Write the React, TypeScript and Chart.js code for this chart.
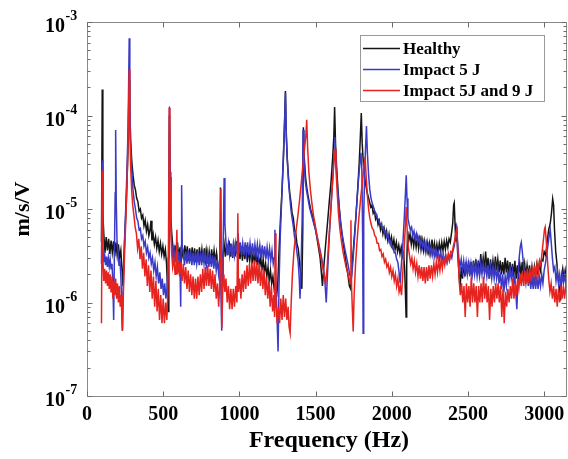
import React, { useEffect, useRef } from "react";
import { Chart, registerables } from "chart.js";

Chart.register(...registerables);

// [frequency (Hz), response (m/s/V)]
const healthy: [number, number][] = [
  [95, 4.5e-6], [100, 1.9e-4], [104, 9e-6], [110, 5.5e-6],
  [118, 3.4e-6], [126, 5e-6], [134, 3.6e-6], [142, 4.8e-6], [150, 3.3e-6], [158, 4.6e-6], [166, 3.4e-6], [174, 4.5e-6],
  [182, 3.1e-6], [190, 4.4e-6], [198, 3.2e-6], [206, 4.2e-6], [214, 3e-6], [222, 3.6e-6], [230, 2.2e-6], [236, 1.5e-6],
  [242, 3e-6], [250, 6e-6], [258, 1.2e-5], [266, 3e-5], [272, 7e-5], [276, 2.4e-4], [280, 1.2e-4], [286, 5.5e-5],
  [294, 3.2e-5], [302, 2.3e-5], [310, 1.8e-5], [318, 1.6e-5], [326, 1.3e-5], [334, 1.2e-5], [342, 9.5e-6], [350, 1e-5],
  [358, 8e-6], [366, 8.6e-6], [374, 6.6e-6], [382, 7.6e-6], [390, 5.8e-6], [398, 6.8e-6], [406, 5.2e-6], [414, 6e-6],
  [420, 7.5e-6], [426, 4.6e-6], [434, 5.4e-6], [442, 4.2e-6], [450, 5e-6], [458, 3.8e-6], [466, 4.6e-6], [474, 3.5e-6],
  [482, 4.3e-6], [490, 3.3e-6], [498, 4e-6], [506, 3.1e-6], [514, 3.7e-6], [522, 2.6e-6], [528, 1.5e-6], [533, 8e-7],
  [537, 6e-6], [541, 1e-4], [545, 2.2e-5], [550, 8e-6], [556, 5.5e-6], [562, 4.2e-6],
  [570, 3e-6], [578, 4.1e-6], [586, 3e-6], [594, 4.4e-6], [602, 2.9e-6], [610, 3.9e-6], [618, 2.7e-6], [626, 3.8e-6],
  [634, 2.9e-6], [642, 4.1e-6], [650, 3e-6], [658, 4e-6], [666, 2.8e-6], [674, 3.8e-6], [682, 2.8e-6], [690, 3.9e-6],
  [698, 2.8e-6], [706, 3.8e-6], [714, 2.7e-6], [722, 3.7e-6], [730, 2.7e-6], [738, 3.9e-6], [746, 2.8e-6], [754, 3.7e-6],
  [762, 2.7e-6], [770, 3.8e-6], [778, 2.8e-6], [786, 3.6e-6], [794, 2.6e-6], [802, 3.5e-6], [810, 2.6e-6], [818, 3.7e-6],
  [826, 2.7e-6], [834, 3.6e-6], [842, 2.7e-6], [850, 3.4e-6], [858, 2.5e-6], [866, 2.2e-6], [872, 3e-6], [876, 1.7e-5],
  [880, 3e-6], [886, 1.8e-6], [892, 3.2e-6],
  [900, 4.2e-6], [908, 3.1e-6], [916, 4.3e-6], [924, 3.2e-6], [932, 4.6e-6], [940, 3.1e-6], [948, 4.2e-6], [956, 3e-6],
  [964, 4.1e-6], [972, 3.1e-6], [980, 4.5e-6], [988, 3e-6], [996, 4.1e-6], [1004, 2.9e-6], [1012, 4e-6], [1020, 2.8e-6],
  [1028, 3.9e-6], [1036, 2.9e-6], [1044, 4.1e-6], [1052, 2.7e-6], [1060, 3.8e-6], [1068, 2.8e-6], [1076, 3.7e-6], [1084, 2.6e-6],
  [1092, 3.6e-6], [1100, 2.6e-6], [1108, 3.5e-6], [1116, 2.5e-6], [1124, 3.3e-6], [1132, 2.4e-6], [1140, 3.1e-6], [1148, 2.2e-6],
  [1156, 2.9e-6], [1164, 2.1e-6], [1172, 2.6e-6], [1180, 1.9e-6], [1188, 2.4e-6], [1196, 1.7e-6], [1204, 2.2e-6], [1212, 1.6e-6],
  [1220, 1.9e-6], [1228, 1.4e-6], [1236, 1.6e-6], [1244, 1.15e-6], [1252, 1.6e-6], [1260, 3.5e-6], [1270, 8e-6], [1280, 1.6e-5],
  [1290, 3.8e-5], [1297, 9e-5], [1302, 1.83e-4], [1307, 7e-5], [1314, 3.5e-5], [1322, 2.2e-5], [1330, 1.5e-5], [1338, 1.2e-5],
  [1346, 9e-6], [1354, 8e-6], [1362, 6e-6], [1370, 5.5e-6], [1378, 4.2e-6], [1386, 3.8e-6], [1394, 2.8e-6], [1402, 2e-6],
  [1410, 1.4e-6], [1416, 6e-6], [1420, 7.5e-5], [1426, 3.5e-5], [1434, 2.2e-5], [1442, 1.7e-5], [1450, 1.4e-5], [1460, 1.15e-5],
  [1470, 9.5e-6], [1480, 8.5e-6], [1490, 7e-6], [1500, 6e-6], [1510, 4.8e-6], [1520, 3.8e-6], [1530, 3e-6], [1538, 2.1e-6],
  [1545, 1.5e-6], [1555, 2.5e-6], [1565, 4e-6], [1578, 7e-6], [1590, 1.2e-5], [1602, 2e-5], [1612, 3.5e-5], [1620, 6e-5],
  [1625, 1.23e-4], [1631, 5e-5], [1638, 2.8e-5], [1646, 1.7e-5], [1654, 1.1e-5], [1662, 7.5e-6], [1672, 5.5e-6], [1682, 4.2e-6],
  [1692, 3.3e-6], [1702, 2.5e-6], [1712, 2e-6], [1722, 1.5e-6], [1730, 1.4e-6], [1740, 2.5e-6], [1752, 4.5e-6], [1764, 8e-6],
  [1776, 1.6e-5], [1786, 3e-5], [1794, 6e-5], [1800, 1.06e-4], [1806, 5e-5], [1814, 3e-5], [1822, 2.2e-5], [1830, 1.8e-5],
  [1838, 1.5e-5], [1846, 1.35e-5], [1854, 1.2e-5], [1862, 1.05e-5], [1870, 1.1e-5], [1878, 9e-6], [1886, 9.6e-6], [1894, 7.8e-6],
  [1902, 8.4e-6], [1910, 6.8e-6], [1918, 7.5e-6], [1926, 6e-6], [1934, 6.8e-6], [1942, 5.4e-6], [1950, 6.2e-6], [1958, 5e-6],
  [1966, 5.8e-6], [1974, 4.6e-6], [1982, 5.4e-6], [1990, 4.3e-6], [1998, 5e-6], [2006, 4e-6], [2014, 4.7e-6], [2022, 3.7e-6],
  [2030, 4.4e-6], [2038, 3.5e-6], [2046, 4.1e-6], [2054, 3.3e-6], [2062, 3.9e-6], [2070, 3.1e-6], [2078, 3.4e-6], [2085, 2.2e-6],
  [2090, 1.2e-6], [2094, 7e-7], [2098, 2.5e-6], [2104, 5.8e-6], [2112, 4.6e-6], [2120, 5.4e-6], [2128, 4.2e-6], [2136, 5.2e-6],
  [2144, 4e-6], [2152, 5e-6], [2160, 3.9e-6], [2168, 4.9e-6], [2176, 3.8e-6], [2184, 5.2e-6], [2192, 3.7e-6], [2200, 4.6e-6],
  [2208, 3.6e-6], [2216, 4.5e-6], [2224, 3.5e-6], [2232, 4.4e-6], [2240, 3.5e-6], [2248, 4.3e-6], [2256, 3.4e-6], [2264, 4.7e-6],
  [2272, 3.5e-6], [2280, 4.3e-6], [2288, 3.4e-6], [2296, 4.2e-6], [2304, 3.4e-6], [2312, 4.3e-6], [2320, 3.5e-6], [2328, 4.4e-6],
  [2336, 3.6e-6], [2344, 4.5e-6], [2352, 3.7e-6], [2360, 4.6e-6], [2368, 3.9e-6], [2376, 4.8e-6], [2384, 4.4e-6], [2392, 5.5e-6],
  [2400, 7e-6], [2406, 1.1e-5], [2410, 1.16e-5], [2415, 7e-6], [2420, 4.5e-6], [2426, 6.5e-6], [2432, 3.5e-6], [2440, 2.2e-6],
  [2448, 1.4e-6], [2456, 2.4e-6], [2464, 1.8e-6],
  [2472, 2.6e-6], [2480, 1.9e-6], [2488, 2.7e-6], [2496, 2e-6], [2504, 2.8e-6], [2512, 2e-6], [2520, 2.7e-6], [2528, 1.9e-6],
  [2536, 2.8e-6], [2544, 2.1e-6], [2552, 2.9e-6], [2560, 2.1e-6], [2568, 2.8e-6], [2576, 2e-6], [2584, 3.3e-6], [2592, 2.2e-6],
  [2600, 3e-6], [2608, 2.3e-6], [2616, 3.5e-6], [2624, 2.3e-6], [2632, 3e-6], [2640, 1.8e-6], [2648, 2.9e-6], [2656, 2.1e-6],
  [2664, 2.8e-6], [2672, 2.1e-6], [2680, 3.1e-6], [2688, 2.2e-6], [2696, 2.9e-6], [2704, 2.1e-6], [2712, 2.8e-6], [2720, 2e-6],
  [2728, 2.7e-6], [2736, 2e-6], [2744, 3e-6], [2752, 2.1e-6], [2760, 2.8e-6], [2768, 2e-6], [2776, 2.7e-6], [2784, 1.9e-6],
  [2792, 2.6e-6], [2800, 1.9e-6], [2808, 2.8e-6], [2816, 1.8e-6], [2824, 2.5e-6], [2832, 1.9e-6], [2840, 2.6e-6], [2848, 2e-6],
  [2856, 2.7e-6], [2864, 2e-6], [2872, 2.6e-6], [2880, 1.9e-6], [2888, 2.5e-6], [2896, 1.9e-6], [2904, 2.5e-6], [2912, 1.8e-6],
  [2920, 2.4e-6], [2928, 1.8e-6], [2936, 2.4e-6], [2944, 1.9e-6], [2952, 2.5e-6], [2960, 2e-6], [2968, 2.6e-6], [2976, 2.2e-6],
  [2984, 2.9e-6], [2992, 2.8e-6], [3000, 3.5e-6], [3010, 3.2e-6], [3020, 4.5e-6], [3030, 6e-6], [3040, 7e-6], [3048, 9e-6],
  [3056, 1.28e-5], [3062, 1.1e-5], [3068, 6e-6], [3076, 3.5e-6], [3084, 2.6e-6], [3092, 1.8e-6], [3100, 1.4e-6], [3108, 1.05e-6],
  [3114, 1.9e-6], [3122, 2.3e-6], [3130, 1.8e-6], [3138, 2.2e-6], [3146, 1.7e-6], [3152, 2e-6],
];

const impact5: [number, number][] = [
  [95, 2.6e-6], [100, 3.3e-5], [104, 4e-6], [110, 2.7e-6],
  [116, 3.2e-6], [122, 2.5e-6], [128, 3.1e-6], [134, 2.4e-6], [140, 3e-6], [146, 2.4e-6], [152, 2.9e-6], [158, 2.3e-6],
  [164, 2.6e-6], [170, 1.6e-6], [175, 6.5e-7], [180, 3.5e-6], [185, 1.5e-5], [188, 7e-5], [192, 1.2e-5], [197, 4.5e-6],
  [204, 3.4e-6], [210, 2.5e-6], [216, 2.9e-6], [222, 1.9e-6], [227, 1.1e-6], [232, 5e-7], [238, 1.5e-6], [246, 4.5e-6],
  [254, 1e-5], [262, 2.5e-5], [270, 8e-5], [277, 6.7e-4], [281, 1.6e-4], [286, 5e-5], [294, 2.5e-5], [302, 1.6e-5],
  [310, 1.2e-5], [318, 1e-5], [326, 8e-6], [334, 7.4e-6], [342, 6e-6], [350, 6.2e-6], [358, 4.8e-6], [366, 5.2e-6],
  [374, 4e-6], [382, 4.5e-6], [390, 3.4e-6], [398, 3.9e-6], [406, 3e-6], [414, 3.4e-6], [422, 2.6e-6], [430, 3e-6],
  [438, 2.2e-6], [446, 2.7e-6], [454, 1.9e-6], [462, 2.4e-6], [470, 1.6e-6], [478, 2.1e-6], [486, 1.4e-6], [494, 1.8e-6],
  [502, 1.2e-6], [510, 1.6e-6], [518, 1.1e-6], [526, 1.5e-6], [533, 3e-6], [537, 8e-6], [541, 1.25e-4], [545, 2.5e-5],
  [550, 7e-6], [556, 4.2e-6], [562, 3.2e-6], [570, 3.8e-6], [578, 2.7e-6], [586, 3.6e-6], [594, 2.6e-6], [602, 3.5e-6],
  [610, 2.5e-6], [615, 9e-7], [618, 4e-6], [621, 1.8e-5], [625, 4e-6], [632, 3.4e-6], [640, 2.5e-6], [648, 3.5e-6],
  [656, 2.6e-6], [664, 3.6e-6], [672, 2.6e-6], [680, 3.5e-6], [688, 2.5e-6], [696, 3.4e-6], [704, 2.5e-6], [712, 3.5e-6],
  [720, 2.6e-6], [728, 3.5e-6], [736, 2.5e-6], [744, 3.4e-6], [752, 2.5e-6], [760, 3.5e-6], [768, 2.6e-6], [776, 3.4e-6],
  [784, 2.5e-6], [792, 3.3e-6], [800, 2.4e-6], [808, 3.3e-6], [816, 2.4e-6], [824, 3.2e-6], [832, 2.3e-6], [840, 3.1e-6],
  [848, 2.2e-6], [856, 2.8e-6], [864, 2e-6], [872, 2.6e-6], [878, 1.5e-6], [884, 5e-7], [890, 2e-6], [895, 6e-6],
  [900, 2.15e-5], [905, 7e-6], [912, 4.4e-6], [920, 3.2e-6], [928, 4.3e-6], [936, 3.2e-6], [944, 4.3e-6], [952, 3.1e-6],
  [960, 4.2e-6], [968, 3.2e-6], [976, 4.3e-6], [984, 3.3e-6], [992, 5.5e-6], [998, 3.3e-6], [1006, 4.4e-6], [1014, 3.2e-6],
  [1022, 4.3e-6], [1030, 3.2e-6], [1038, 4.4e-6], [1046, 3.3e-6], [1054, 4.4e-6], [1062, 3.2e-6], [1070, 4.3e-6], [1078, 3.2e-6],
  [1086, 4.3e-6], [1094, 3.1e-6], [1102, 4.2e-6], [1110, 3.2e-6], [1118, 4.2e-6], [1126, 3.1e-6], [1134, 4.1e-6], [1142, 3e-6],
  [1150, 4.1e-6], [1158, 3e-6], [1166, 4e-6], [1174, 2.9e-6], [1182, 3.9e-6], [1190, 2.9e-6], [1198, 3.8e-6], [1206, 2.8e-6],
  [1214, 3.6e-6], [1222, 2.6e-6], [1228, 3e-6], [1233, 6e-6], [1238, 2e-6], [1246, 8e-7], [1254, 3e-7], [1260, 1.5e-6],
  [1268, 5e-6], [1278, 1.3e-5], [1288, 3.5e-5], [1296, 8e-5], [1303, 1.75e-4], [1308, 6e-5], [1315, 3.2e-5], [1322, 2e-5],
  [1330, 1.4e-5], [1338, 1e-5], [1346, 8e-6], [1354, 6.5e-6], [1362, 5e-6], [1370, 4.4e-6], [1378, 3.4e-6], [1386, 2.7e-6],
  [1393, 1.8e-6], [1398, 1.1e-6], [1405, 2.5e-6], [1412, 8e-6], [1418, 7e-5], [1424, 3.5e-5], [1432, 2e-5], [1440, 1.6e-5],
  [1450, 1.3e-5], [1460, 1.05e-5], [1470, 9e-6], [1480, 7.8e-6], [1490, 6.8e-6], [1500, 6e-6], [1510, 5e-6], [1520, 4.3e-6],
  [1530, 3.6e-6], [1540, 3e-6], [1550, 2.4e-6], [1560, 1.8e-6], [1570, 1e-6], [1578, 2e-6], [1590, 5e-6], [1602, 1.1e-5],
  [1614, 2.3e-5], [1622, 4e-5], [1627, 5.9e-5], [1633, 3.5e-5], [1640, 2.2e-5], [1648, 1.4e-5], [1656, 1e-5], [1664, 7.5e-6],
  [1674, 5.5e-6], [1684, 4.4e-6], [1694, 3.6e-6], [1704, 3e-6], [1714, 2.5e-6], [1724, 2e-6], [1734, 1.75e-6], [1744, 2.6e-6],
  [1756, 5e-6], [1768, 1e-5], [1780, 1.9e-5], [1790, 3e-5], [1798, 4e-5], [1804, 2.5e-5], [1809, 5e-6], [1812, 4.7e-7],
  [1816, 8e-6], [1822, 2.5e-5], [1828, 4.5e-5], [1834, 7.7e-5], [1840, 4e-5], [1848, 2.3e-5], [1856, 1.6e-5], [1864, 1.3e-5],
  [1872, 1.15e-5], [1880, 1.05e-5], [1888, 9.5e-6], [1896, 9e-6], [1904, 8e-6], [1912, 7.8e-6], [1920, 7e-6], [1928, 7e-6],
  [1936, 6.2e-6], [1944, 6.4e-6], [1952, 5.6e-6], [1960, 5.8e-6], [1968, 5e-6], [1976, 5.2e-6], [1984, 4.4e-6], [1992, 4.6e-6],
  [2000, 3.9e-6], [2008, 4e-6], [2016, 3.4e-6], [2024, 3.4e-6], [2032, 2.9e-6], [2040, 2.7e-6], [2048, 2.1e-6], [2055, 1.6e-6],
  [2062, 2.4e-6], [2072, 4e-6], [2082, 8e-6], [2090, 1.5e-5], [2095, 2.3e-5], [2100, 1.3e-5], [2106, 8e-6], [2114, 6.8e-6],
  [2122, 6e-6], [2130, 6.4e-6], [2138, 5.2e-6], [2146, 5.8e-6], [2154, 4.7e-6], [2162, 5.4e-6], [2170, 4.4e-6], [2178, 5e-6],
  [2186, 4.1e-6], [2194, 4.8e-6], [2202, 3.9e-6], [2210, 4.5e-6], [2218, 3.7e-6], [2226, 4.3e-6], [2234, 3.5e-6], [2242, 4.1e-6],
  [2250, 3.3e-6], [2258, 3.9e-6], [2266, 3.2e-6], [2274, 3.8e-6], [2282, 3.1e-6], [2290, 3.7e-6], [2298, 3e-6], [2306, 3.5e-6],
  [2314, 2.9e-6], [2322, 3.4e-6], [2330, 2.8e-6], [2338, 3.3e-6], [2346, 2.7e-6], [2354, 3.2e-6], [2362, 2.7e-6], [2370, 3.2e-6],
  [2378, 2.8e-6], [2386, 3.3e-6], [2394, 3e-6], [2402, 3.6e-6], [2410, 4e-6], [2418, 5e-6], [2426, 6.2e-6], [2432, 4.5e-6],
  [2440, 3e-6], [2448, 2.4e-6], [2456, 2.9e-6],
  [2464, 2.2e-6], [2472, 2.8e-6], [2480, 2.1e-6], [2488, 2.7e-6], [2496, 2e-6], [2504, 2.6e-6], [2512, 1.9e-6], [2520, 2.6e-6],
  [2528, 2e-6], [2536, 2.7e-6], [2544, 2e-6], [2552, 2.6e-6], [2560, 1.9e-6], [2568, 2.5e-6], [2576, 1.9e-6], [2584, 2.6e-6],
  [2592, 2e-6], [2600, 2.6e-6], [2608, 2e-6], [2616, 2.5e-6], [2624, 1.9e-6], [2632, 2.5e-6], [2640, 1.8e-6], [2648, 2.4e-6],
  [2656, 1.8e-6], [2664, 2.4e-6], [2672, 1.8e-6], [2680, 2.4e-6], [2688, 1.8e-6], [2696, 2.3e-6], [2704, 1.6e-6], [2712, 2.1e-6],
  [2720, 1.4e-6], [2728, 2e-6], [2736, 1.3e-6], [2744, 1.9e-6], [2752, 1.5e-6], [2760, 2.2e-6], [2768, 1.7e-6], [2776, 2.3e-6],
  [2784, 1.8e-6], [2792, 2.2e-6], [2800, 1.6e-6], [2808, 1.9e-6], [2815, 1.2e-6], [2821, 8.5e-7], [2828, 1.8e-6], [2836, 3e-6],
  [2844, 4e-6], [2850, 4.4e-6], [2856, 3.6e-6], [2864, 2.6e-6], [2872, 2e-6], [2880, 1.6e-6], [2888, 2.1e-6], [2896, 1.5e-6],
  [2904, 2e-6], [2912, 1.4e-6], [2920, 1.9e-6], [2928, 1.4e-6], [2936, 1.9e-6], [2944, 1.4e-6], [2952, 1.9e-6], [2960, 1.4e-6],
  [2968, 1.9e-6], [2976, 1.5e-6], [2984, 2e-6], [2992, 1.6e-6], [3000, 2.2e-6], [3008, 2.6e-6], [3016, 3.2e-6], [3024, 4e-6],
  [3032, 5e-6], [3040, 6e-6], [3046, 4.5e-6], [3054, 3e-6], [3062, 2.2e-6], [3070, 2.4e-6], [3078, 1.7e-6], [3086, 2.2e-6],
  [3094, 1.6e-6], [3102, 2e-6], [3110, 1.5e-6], [3118, 2e-6], [3126, 1.6e-6], [3134, 2e-6], [3142, 1.6e-6], [3152, 1.9e-6],
];

const impact59: [number, number][] = [
  [95, 6e-7], [100, 2.6e-5], [104, 3e-6], [110, 1.7e-6],
  [116, 2.3e-6], [122, 1.6e-6], [128, 2.2e-6], [134, 1.5e-6], [140, 2.1e-6], [146, 1.4e-6], [152, 2e-6], [158, 1.3e-6],
  [164, 1.9e-6], [170, 1.1e-6], [176, 1.7e-6], [182, 1.2e-6], [188, 1.8e-6], [194, 1.1e-6], [200, 1.6e-6], [206, 1e-6],
  [212, 1.5e-6], [218, 9e-7], [224, 1.2e-6], [229, 7e-7], [233, 5e-7], [239, 1.3e-6], [247, 3.5e-6], [255, 8e-6],
  [263, 2e-5], [270, 5.5e-5], [277, 3.07e-4], [281, 8e-5], [286, 3e-5], [293, 1.6e-5], [300, 1.1e-5], [308, 8.5e-6],
  [316, 6.4e-6], [324, 5.5e-6], [332, 3.8e-6], [340, 4.8e-6], [348, 2.9e-6], [356, 4e-6], [364, 2.3e-6], [372, 3.4e-6],
  [380, 1.9e-6], [388, 2.9e-6], [396, 1.5e-6], [404, 2.5e-6], [412, 1.3e-6], [420, 2.2e-6], [428, 1.1e-6], [436, 1.9e-6],
  [444, 9e-7], [452, 1.7e-6], [460, 8e-7], [468, 1.4e-6], [476, 6.5e-7], [484, 1.2e-6], [492, 6e-7], [500, 1.1e-6],
  [508, 6e-7], [516, 1e-6], [524, 6.5e-7], [530, 1.2e-6], [535, 5e-6], [540, 1.2e-4], [544, 2.5e-5], [549, 7e-6],
  [555, 3.5e-6], [562, 2.4e-6], [570, 3e-6], [578, 2e-6], [584, 2.8e-6], [590, 6e-6], [594, 2e-6], [600, 2.8e-6],
  [608, 1.9e-6], [616, 2.7e-6], [624, 1.7e-6], [632, 2.6e-6], [640, 1.6e-6], [648, 2.4e-6], [656, 1.4e-6], [664, 2.2e-6],
  [672, 1.3e-6], [680, 2e-6], [688, 1.2e-6], [696, 1.9e-6], [704, 1.1e-6], [712, 1.8e-6], [720, 1.1e-6], [728, 1.9e-6],
  [736, 1.2e-6], [744, 2e-6], [752, 1.3e-6], [760, 2.3e-6], [768, 1.4e-6], [776, 2.4e-6], [784, 1.5e-6], [792, 2.5e-6],
  [800, 1.5e-6], [808, 2.3e-6], [816, 1.4e-6], [824, 2.2e-6], [832, 1.3e-6], [840, 2e-6], [848, 1.1e-6], [856, 1.6e-6],
  [864, 9e-7], [870, 1.4e-6], [874, 4e-6], [878, 1.65e-5], [881, 3e-6], [885, 5.3e-7], [891, 1.4e-6], [898, 2e-6],
  [905, 1.3e-6], [912, 1.8e-6], [920, 1e-6], [928, 1.5e-6], [936, 8.5e-7], [944, 1.4e-6], [952, 8.5e-7], [960, 1.4e-6],
  [968, 9e-7], [976, 1.5e-6], [984, 1e-6], [990, 9e-6], [994, 1.3e-6], [1002, 1.8e-6], [1010, 1.1e-6], [1018, 2e-6],
  [1026, 1.3e-6], [1034, 2.2e-6], [1042, 1.4e-6], [1050, 2.5e-6], [1058, 1.5e-6], [1066, 2.6e-6], [1074, 1.6e-6], [1082, 2.7e-6],
  [1090, 1.7e-6], [1098, 2.8e-6], [1106, 1.7e-6], [1114, 2.7e-6], [1122, 1.6e-6], [1130, 2.6e-6], [1138, 1.5e-6], [1146, 2.4e-6],
  [1154, 1.4e-6], [1162, 2.2e-6], [1170, 1.2e-6], [1178, 1.9e-6], [1186, 1.1e-6], [1194, 1.7e-6], [1202, 9e-7], [1210, 1.5e-6],
  [1218, 8e-7], [1226, 1.2e-6], [1231, 7e-7], [1236, 5.5e-6], [1240, 1e-6], [1248, 6e-7], [1256, 9e-7], [1264, 6e-7],
  [1272, 1.1e-6], [1280, 6.5e-7], [1288, 1.2e-6], [1296, 7e-7], [1304, 1.1e-6], [1312, 6.5e-7], [1320, 9e-7], [1326, 5.5e-7],
  [1333, 4.7e-7], [1340, 1e-6], [1348, 2e-6], [1358, 3.5e-6], [1370, 5.5e-6], [1382, 8e-6], [1394, 1.2e-5], [1406, 1.9e-5],
  [1418, 3e-5], [1428, 4.5e-5], [1436, 6e-5], [1442, 9e-5], [1448, 4.5e-5], [1456, 2.5e-5], [1466, 1.6e-5], [1476, 1.15e-5],
  [1486, 8.6e-6], [1496, 7e-6], [1506, 5.6e-6], [1516, 4.6e-6], [1526, 3.6e-6], [1536, 3e-6], [1546, 2.4e-6], [1556, 2e-6],
  [1566, 1.6e-6], [1576, 2.4e-6], [1588, 5e-6], [1600, 1e-5], [1612, 2e-5], [1622, 3.5e-5], [1628, 4.3e-5], [1634, 2.6e-5],
  [1642, 1.5e-5], [1650, 9e-6], [1660, 6e-6], [1670, 4.5e-6], [1680, 3.5e-6], [1690, 2.9e-6], [1700, 2.4e-6], [1710, 2.1e-6],
  [1720, 1.8e-6], [1728, 1.6e-6], [1732, 7.6e-6], [1736, 1.5e-6], [1742, 8e-7], [1747, 4.9e-7], [1753, 1.2e-6], [1762, 2.5e-6],
  [1772, 4.5e-6], [1784, 8e-6], [1796, 1.3e-5], [1808, 2e-5], [1818, 3e-5], [1825, 3.6e-5], [1832, 2.2e-5], [1840, 1.4e-5],
  [1848, 1e-5], [1856, 8e-6], [1864, 7e-6], [1872, 6.2e-6], [1880, 6e-6], [1888, 5.2e-6], [1896, 5e-6], [1904, 4.3e-6],
  [1912, 4.3e-6], [1920, 3.6e-6], [1928, 3.7e-6], [1936, 3.1e-6], [1944, 3.3e-6], [1952, 2.7e-6], [1960, 2.9e-6], [1968, 2.4e-6],
  [1976, 2.6e-6], [1984, 2.1e-6], [1992, 2.4e-6], [2000, 1.9e-6], [2008, 2.2e-6], [2016, 1.7e-6], [2024, 2e-6], [2032, 1.5e-6],
  [2040, 1.8e-6], [2048, 1.3e-6], [2056, 1.5e-6], [2064, 1.2e-6], [2072, 2e-6], [2080, 3.5e-6], [2088, 6e-6], [2095, 1.05e-5],
  [2101, 6e-6], [2108, 4e-6], [2116, 3.2e-6], [2124, 2.6e-6], [2132, 3e-6], [2140, 2.3e-6], [2148, 2.8e-6], [2156, 2.1e-6],
  [2164, 2.6e-6], [2172, 1.9e-6], [2180, 2.5e-6], [2188, 1.8e-6], [2196, 2.4e-6], [2204, 1.7e-6], [2212, 2.4e-6], [2220, 1.6e-6],
  [2228, 2.4e-6], [2236, 1.7e-6], [2244, 2.5e-6], [2252, 1.8e-6], [2260, 2.5e-6], [2268, 1.9e-6], [2276, 2.6e-6], [2284, 2e-6],
  [2292, 2.7e-6], [2300, 2.1e-6], [2308, 2.8e-6], [2316, 2.2e-6], [2324, 2.9e-6], [2332, 2.3e-6], [2340, 3e-6], [2348, 2.5e-6],
  [2356, 3.1e-6], [2364, 2.7e-6], [2372, 3.3e-6], [2380, 2.9e-6], [2388, 3.5e-6], [2396, 3.4e-6], [2404, 4e-6], [2412, 4.5e-6],
  [2420, 5.5e-6], [2426, 6e-6], [2432, 4e-6], [2438, 2.5e-6], [2444, 1.6e-6], [2450, 1.2e-6],
  [2458, 1.6e-6], [2466, 1e-6], [2474, 1.5e-6], [2482, 7e-7], [2490, 1.6e-6], [2498, 1e-6], [2506, 1.5e-6], [2514, 9e-7],
  [2522, 1.9e-6], [2530, 1e-6], [2538, 1.6e-6], [2546, 1e-6], [2554, 1.5e-6], [2562, 7e-7], [2570, 1.5e-6], [2578, 1e-6],
  [2586, 1.6e-6], [2594, 1e-6], [2602, 1.9e-6], [2610, 1.1e-6], [2618, 1.6e-6], [2626, 1e-6], [2634, 1.5e-6], [2642, 6.5e-7],
  [2650, 1.4e-6], [2658, 9e-7], [2666, 1.5e-6], [2674, 1e-6], [2682, 1.6e-6], [2690, 1.1e-6], [2698, 1.6e-6], [2706, 1e-6],
  [2714, 1.5e-6], [2722, 7e-7], [2730, 1.4e-6], [2738, 6e-7], [2746, 1.3e-6], [2754, 9e-7], [2762, 1.4e-6], [2770, 1e-6],
  [2778, 1.5e-6], [2786, 1.1e-6], [2794, 1.8e-6], [2802, 1.1e-6], [2810, 1.6e-6], [2818, 1.2e-6], [2826, 1.8e-6], [2834, 1.4e-6],
  [2842, 2e-6], [2850, 1.5e-6], [2858, 2.1e-6], [2866, 1.5e-6], [2874, 2.2e-6], [2882, 1.6e-6], [2890, 2.3e-6], [2898, 1.6e-6],
  [2906, 2.3e-6], [2914, 1.7e-6], [2922, 2.4e-6], [2930, 1.8e-6], [2938, 2.5e-6], [2946, 1.9e-6], [2954, 2.6e-6], [2962, 2.1e-6],
  [2970, 2.8e-6], [2978, 2.5e-6], [2986, 3.4e-6], [2994, 4.5e-6], [3002, 6e-6], [3007, 6.4e-6], [3014, 4.5e-6], [3022, 2.8e-6],
  [3030, 1.8e-6], [3038, 1.3e-6], [3046, 1.6e-6], [3054, 1.1e-6], [3062, 1.5e-6], [3070, 1e-6], [3078, 1.4e-6], [3086, 9e-7],
  [3094, 1.4e-6], [3102, 1e-6], [3110, 1.5e-6], [3118, 1.1e-6], [3126, 1.5e-6], [3134, 1.1e-6], [3142, 1.5e-6], [3152, 1.2e-6],
];

const seriesLabels = ["Healthy", "Impact 5 J", "Impact 5J and 9 J"];
const seriesColors = ["#141414", "#3a3ac6", "#e6231f"];
const xTickValues = [0, 500, 1000, 1500, 2000, 2500, 3000];
const yDecadeExponents = [-7, -6, -5, -4, -3];
const yMinorFactors = [2, 3, 4, 5, 6, 7, 8, 9];
const xTitle = "Frequency (Hz)";
const yTitle = "m/s/V";

const FONT = '"Liberation Serif", "Times New Roman", serif';

const framePlugin = {
  id: "frame",
  beforeDraw(chart: any) {
    const ctx = chart.ctx;
    ctx.save();
    ctx.fillStyle = "#ffffff";
    ctx.fillRect(0, 0, chart.width, chart.height);
    ctx.restore();
  },
  afterDraw(chart: any) {
    const ctx: CanvasRenderingContext2D = chart.ctx;
    const a = chart.chartArea;
    const xs = chart.scales.x;
    const ys = chart.scales.y;
    const L = Math.round(a.left) + 0.5;
    const R = Math.round(a.right) - 0.5;
    const T = Math.round(a.top) + 0.5;
    const B = Math.round(a.bottom) + 0.5;
    ctx.save();
    ctx.strokeStyle = "#8a8a8a";
    ctx.lineWidth = 1;
    ctx.beginPath();
    ctx.moveTo(L, T);
    ctx.lineTo(R, T);
    ctx.lineTo(R, B);
    ctx.lineTo(L, B);
    ctx.closePath();
    ctx.stroke();
    ctx.strokeStyle = "#6a6a6a";
    ctx.beginPath();
    for (const v of xTickValues) {
      const px = Math.round(xs.getPixelForValue(v)) + 0.5;
      ctx.moveTo(px, B);
      ctx.lineTo(px, B - 5);
      ctx.moveTo(px, T);
      ctx.lineTo(px, T + 5);
    }
    for (const k of yDecadeExponents) {
      const major = Math.pow(10, k);
      const py = Math.round(ys.getPixelForValue(major)) + 0.5;
      ctx.moveTo(L, py);
      ctx.lineTo(L + 5, py);
      ctx.moveTo(R, py);
      ctx.lineTo(R - 5, py);
      if (k < -3) {
        for (const f of yMinorFactors) {
          const pm = Math.round(ys.getPixelForValue(f * major)) + 0.5;
          ctx.moveTo(L, pm);
          ctx.lineTo(L + 3, pm);
          ctx.moveTo(R, pm);
          ctx.lineTo(R - 3, pm);
        }
      }
    }
    ctx.stroke();

    ctx.fillStyle = "#000000";
    ctx.font = `bold 20px ${FONT}`;
    ctx.textAlign = "center";
    ctx.textBaseline = "alphabetic";
    for (const v of xTickValues) {
      const px = xs.getPixelForValue(v);
      ctx.fillText(String(v), px, 420);
    }
    for (const k of yDecadeExponents) {
      const py = ys.getPixelForValue(Math.pow(10, k));
      ctx.font = `bold 20px ${FONT}`;
      ctx.textAlign = "left";
      ctx.fillText("10", 45, py + 10);
      const w = ctx.measureText("10").width;
      ctx.font = `bold 14px ${FONT}`;
      ctx.fillText("-" + Math.abs(k), 45 + w + 0.5, py - 2);
    }
    ctx.font = `bold 24px ${FONT}`;
    ctx.textAlign = "center";
    ctx.fillText(xTitle, (a.left + a.right) / 2 + 2, 447);
    ctx.save();
    ctx.translate(29, (a.top + a.bottom) / 2);
    ctx.rotate(-Math.PI / 2);
    ctx.font = `bold 22px ${FONT}`;
    ctx.fillText(yTitle, 0, 0);
    ctx.restore();

    const lx = 360.5, ly = 35.5, lw = 184, lh = 66;
    ctx.fillStyle = "#ffffff";
    ctx.fillRect(lx, ly, lw, lh);
    ctx.strokeStyle = "#9a9a9a";
    ctx.lineWidth = 1;
    ctx.strokeRect(lx, ly, lw, lh);
    const ds = chart.data.datasets;
    ds.forEach((d: any, i: number) => {
      const ry = 48.5 + i * 21;
      ctx.strokeStyle = d.borderColor;
      ctx.lineWidth = 1.5;
      ctx.beginPath();
      ctx.moveTo(363, ry);
      ctx.lineTo(400, ry);
      ctx.stroke();
      ctx.fillStyle = "#000000";
      ctx.font = `bold 17px ${FONT}`;
      ctx.textAlign = "left";
      ctx.textBaseline = "middle";
      ctx.fillText(d.label, 403, ry + 1);
    });
    ctx.restore();
  },
};

export default function App() {
  const ref = useRef<HTMLCanvasElement | null>(null);
  useEffect(() => {
    if (!ref.current) return;
    const all = [healthy, impact5, impact59];
    const chart = new Chart(ref.current, {
      type: "line",
      data: {
        datasets: all.map((s, i) => ({
          label: seriesLabels[i],
          data: s.map(([x, y]) => ({ x, y })),
          borderColor: seriesColors[i],
          backgroundColor: seriesColors[i],
          borderWidth: 1.5,
          pointRadius: 0,
          tension: 0,
          fill: false,
          order: 3 - i,
        })),
      },
      options: {
        animation: false,
        responsive: false,
        events: [],
        layout: { padding: { left: 87, top: 22, right: 1, bottom: 63 } },
        scales: {
          x: {
            type: "linear",
            min: 0,
            max: 3150,
            display: false,
            afterBuildTicks: (s: any) => {
              s.ticks = xTickValues.map((v) => ({ value: v }));
            },
          },
          y: {
            type: "logarithmic",
            min: 1e-7,
            max: 1e-3,
            display: false,
          },
        },
        plugins: {
          legend: { display: false },
          tooltip: { enabled: false },
        },
      },
      plugins: [framePlugin],
    });
    return () => chart.destroy();
  }, []);
  return (
    <div style={{ position: "fixed", left: 0, top: 0, width: 568, height: 459, background: "#fff" }}>
      <canvas ref={ref} width={568} height={459} style={{ display: "block", width: 568, height: 459 }} />
    </div>
  );
}
